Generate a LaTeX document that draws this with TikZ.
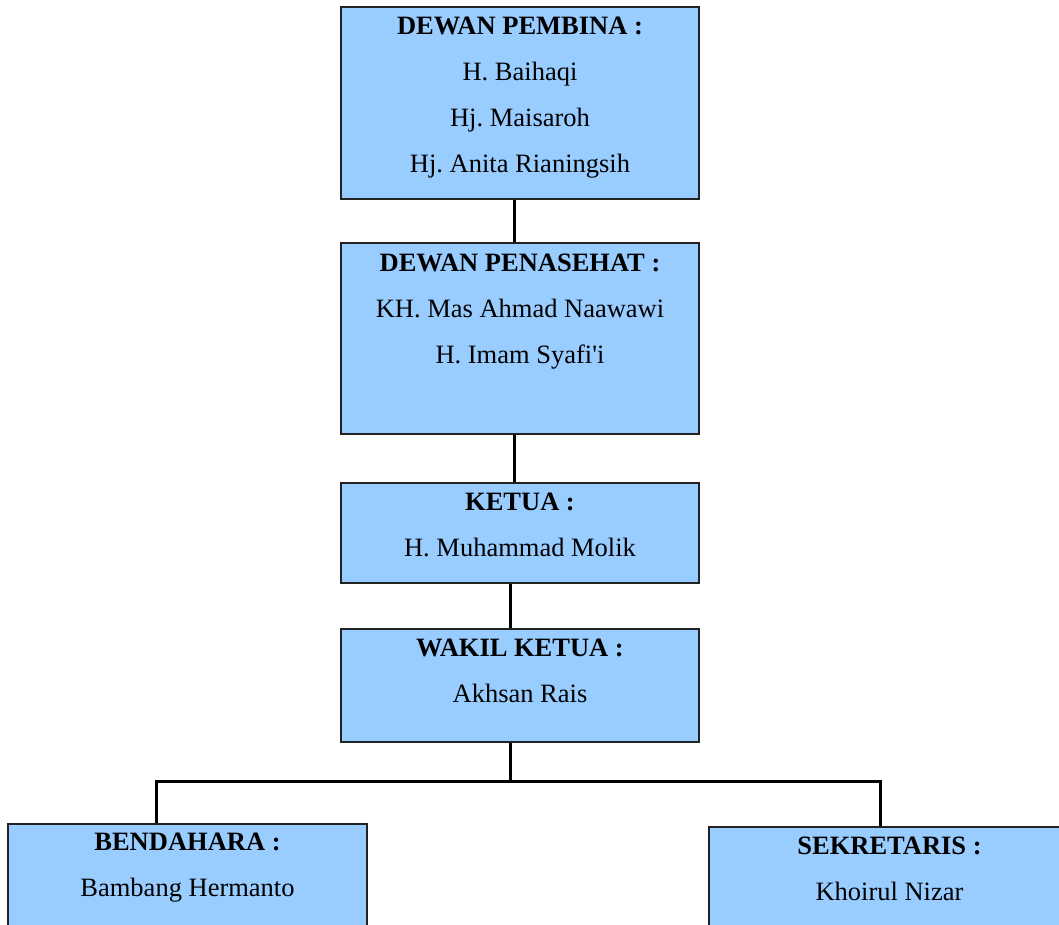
\documentclass[tikz,border=0pt]{standalone}
\usepackage{fontspec}
\setmainfont{Liberation Serif}[Ligatures=TeXOff]
\frenchspacing
\definecolor{boxblue}{HTML}{99CCFF}
\definecolor{edge}{HTML}{222222}
\begin{document}
\begin{tikzpicture}[x=1pt,y=1pt,
  orgbox/.style={draw=edge,line width=1.5pt,fill=boxblue,rectangle,inner sep=0pt},
  orgtxt/.style={anchor=north,align=center,inner sep=0pt,font=\frenchspacing\fontsize{26.5}{46}\selectfont},
  conn/.style={line width=3pt,draw=black}]
\useasboundingbox (0,0) rectangle (1059,-924);
% boxes
\node[orgbox,minimum width=358,minimum height=192] (pembina) at (520,-103) {};
\node[orgbox,minimum width=358,minimum height=191] (penasehat) at (520,-338.5) {};
\node[orgbox,minimum width=358,minimum height=100] (ketua) at (520,-533) {};
\node[orgbox,minimum width=358,minimum height=113] (wakil) at (520,-685.5) {};
\node[orgbox,minimum width=359,minimum height=150] (bendahara) at (187.5,-899) {};
\node[orgbox,minimum width=361,minimum height=150] (sekretaris) at (889.5,-902) {};
% texts
\node[orgtxt] (tpembina) at ([yshift=-11]pembina.north) {\textbf{DEWAN PEMBINA :}\\H. Baihaqi\\Hj. Maisaroh\\Hj. Anita Rianingsih};
\node[orgtxt] (tpenasehat) at ([yshift=-11]penasehat.north) {\textbf{DEWAN PENASEHAT :}\\KH. Mas Ahmad Naawawi\\H. Imam Syafi'i};
\node[orgtxt] (tketua) at ([yshift=-11]ketua.north) {\textbf{KETUA :}\\H. Muhammad Molik};
\node[orgtxt] (twakil) at ([yshift=-11]wakil.north) {\textbf{WAKIL KETUA :}\\Akhsan Rais};
\node[orgtxt] (tbendahara) at ([yshift=-10]bendahara.north) {\textbf{BENDAHARA :}\\Bambang Hermanto};
\node[orgtxt] (tsekretaris) at ([yshift=-10]sekretaris.north) {\textbf{SEKRETARIS :}\\Khoirul Nizar};
% connectors
\draw[conn] ([xshift=-6]pembina.south) -- ([xshift=-6]penasehat.north);
\draw[conn] ([xshift=-6]penasehat.south) -- ([xshift=-6]ketua.north);
\draw[conn] ([xshift=-10]ketua.south) -- ([xshift=-10]wakil.north);
\coordinate (bL) at ([xshift=-31.5]bendahara.north);
\coordinate (bR) at ([xshift=-9.5]sekretaris.north);
\draw[conn] ([xshift=-10]wakil.south) -- ++(0,-39) coordinate (junc);
\draw[conn] (bL) -- (bL |- junc) -- (bR |- junc) -- (bR);
\end{tikzpicture}
\end{document}
